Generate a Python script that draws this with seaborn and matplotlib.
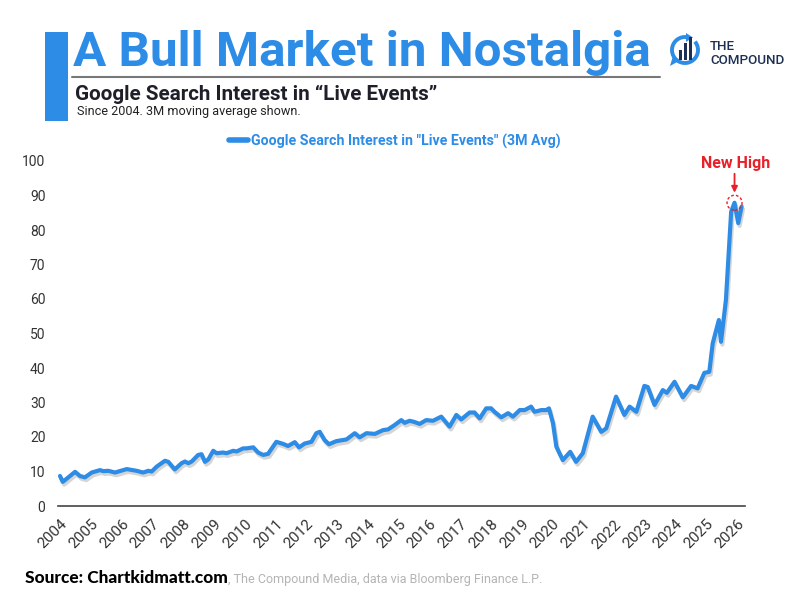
import matplotlib
matplotlib.use("Agg")
import matplotlib.pyplot as plt
import matplotlib.patheffects as pe
from matplotlib.patches import Rectangle, Ellipse, Arc, Polygon
from matplotlib.lines import Line2D
import seaborn as sns
import pandas as pd
import numpy as np

# ---------------- data ----------------
years = [2004.00, 2004.09, 2004.27, 2004.49, 2004.65, 2004.81, 2005.03, 2005.30, 2005.41, 2005.57,
         2005.79, 2005.90, 2006.17, 2006.49, 2006.70, 2006.87, 2006.98, 2007.14, 2007.41, 2007.52,
         2007.73, 2007.95, 2008.06, 2008.17, 2008.28, 2008.49, 2008.60, 2008.71, 2008.82, 2008.98,
         2009.09, 2009.30, 2009.41, 2009.63, 2009.74, 2009.95, 2010.06, 2010.28, 2010.44, 2010.60,
         2010.76, 2011.03, 2011.25, 2011.41, 2011.63, 2011.77, 2011.95, 2012.17, 2012.33, 2012.44,
         2012.60, 2012.74, 2012.98, 2013.31, 2013.58, 2013.74, 2013.96, 2014.23, 2014.50, 2014.66,
         2014.88, 2015.09, 2015.20, 2015.36, 2015.50, 2015.69, 2015.90, 2016.12, 2016.39, 2016.66,
         2016.88, 2017.04, 2017.31, 2017.47, 2017.64, 2017.85, 2018.01, 2018.12, 2018.34, 2018.56,
         2018.72, 2018.94, 2019.10, 2019.31, 2019.42, 2019.64, 2019.80, 2019.89, 2020.02, 2020.13,
         2020.34, 2020.58, 2020.77, 2020.99, 2021.31, 2021.59, 2021.75, 2022.07, 2022.34, 2022.51,
         2022.73, 2022.99, 2023.10, 2023.32, 2023.59, 2023.72, 2023.97, 2024.24, 2024.51, 2024.72,
         2024.94, 2025.10, 2025.21, 2025.41, 2025.48, 2025.64, 2025.81, 2025.92, 2026.04, 2026.15]
values = [8.7, 7.0, 8.3, 9.9, 8.7, 8.3, 9.7, 10.4, 10.1, 10.2,
          9.7, 10.0, 10.7, 10.2, 9.7, 10.2, 10.0, 11.4, 13.1, 12.8,
          10.6, 12.4, 12.9, 12.4, 12.9, 14.8, 15.0, 12.8, 13.5, 16.0,
          15.3, 15.5, 15.3, 16.0, 15.8, 16.7, 16.7, 17.0, 15.5, 14.8,
          15.1, 18.6, 18.0, 17.4, 18.5, 17.0, 18.1, 18.6, 21.1, 21.5,
          19.1, 17.9, 18.8, 19.3, 21.1, 19.9, 21.1, 20.9, 22.0, 22.2,
          23.5, 24.9, 24.1, 24.7, 24.4, 23.8, 24.9, 24.7, 25.9, 23.0,
          26.4, 25.1, 27.1, 27.1, 25.4, 28.3, 28.3, 27.3, 25.7, 26.9,
          25.9, 27.8, 27.8, 28.8, 27.3, 27.8, 27.8, 28.3, 24.0, 17.2,
          13.3, 15.7, 12.8, 15.3, 25.9, 21.5, 22.5, 31.7, 26.4, 28.8,
          27.3, 34.8, 34.5, 29.3, 33.6, 32.8, 36.0, 31.5, 34.8, 34.1,
          38.6, 38.9, 47.1, 53.9, 47.6, 59.7, 85.3, 87.9, 82.0, 86.8]
tick_years = list(range(2004, 2027))
y_ticks = list(range(0, 101, 10))
series_label = 'Google Search Interest in "Live Events" (3M Avg)'
title = "A Bull Market in Nostalgia"
subtitle = "Google Search Interest in \u201cLive Events\u201d"
subsubtitle = "Since 2004. 3M moving average shown."
source_bold = "Source: Chartkidmatt.com"
source_rest = ", The Compound Media, data via Bloomberg Finance L.P."
annotation_text = "New High"

# ---------------- style ----------------
BLUE = "#2D8CE6"
NAVY = "#1d2f55"
sns.set_theme(style="white")
plt.rcParams["font.family"] = ["Roboto", "DejaVu Sans"]

W, H = 800, 600
fig = plt.figure(figsize=(8, 6), dpi=100)
fig.patch.set_facecolor("white")


def fx(x):
    return x / W


def fy(y):
    return 1 - y / H


renderer = fig.canvas.get_renderer()


def fit(t, target_w):
    w = t.get_window_extent(renderer).width
    t.set_fontsize(t.get_fontsize() * target_w / w)


# ---------------- main axes ----------------
ax = fig.add_axes([fx(58), fy(506), (745 - 58) / W, (506 - 161) / H])
df = pd.DataFrame({"Year": years, "Value": values})
sns.lineplot(data=df, x="Year", y="Value", ax=ax, color=BLUE, linewidth=3.0, legend=False)
line = ax.lines[0]
line.set_solid_joinstyle("round")
line.set_solid_capstyle("round")
line.set_path_effects([pe.SimpleLineShadow(offset=(1.0, -2.0), shadow_color="#777777", alpha=0.3),
                       pe.Normal()])

ax.set_xlim(2003.935, 2026.26)
ax.set_ylim(0, 100)
ax.set_xticks(tick_years)
ax.set_xticklabels([str(t) for t in tick_years], rotation=45, ha="right",
                   rotation_mode="anchor", fontsize=11, color="#333333")
ax.set_yticks(y_ticks)
ax.set_yticklabels([str(t) for t in y_ticks], fontsize=10, color="#333333")
ax.tick_params(axis="both", length=0)
ax.tick_params(axis="y", pad=9)
ax.tick_params(axis="x", pad=8)
ax.set_xlabel("")
ax.set_ylabel("")
ax.grid(False)
for s in ["left", "top", "right"]:
    ax.spines[s].set_visible(False)
ax.spines["bottom"].set_color("#444444")
ax.spines["bottom"].set_linewidth(1.2)
ax.set_facecolor("white")

# peak annotation
i = int(np.argmax(values))
px, py = years[i], values[i]
xpp = (745 - 58) / (2026.26 - 2003.935)  # pixels per year
ypp = (506 - 161) / 100.0                 # pixels per unit
ax.add_patch(Ellipse((px, py), width=15 / xpp, height=15 / ypp, fill=False, ec="#e8202a",
                     ls=(0, (2, 1.5)), lw=1.0, clip_on=False, zorder=5))
ax.annotate("", xy=(px, py + 10 / ypp), xytext=(px, py + 29 / ypp),
            arrowprops=dict(arrowstyle="-|>", color="#e8202a", lw=1.3, mutation_scale=9,
                            shrinkA=0, shrinkB=0), annotation_clip=False)
ax.annotate(annotation_text, xy=(px, py), xytext=(1 * 0.72, 39 * 0.72),
            textcoords="offset points", ha="center", va="center", color="#e8202a",
            weight="bold", fontsize=11.5, annotation_clip=False)

# legend
fig.legend(handles=[Line2D([0], [0], color=BLUE, lw=4)], labels=[series_label],
           loc="center", bbox_to_anchor=(fx(394.5), fy(141)), frameon=False,
           handlelength=1.35, handletextpad=0.2, prop={"weight": "bold", "size": 10.2},
           labelcolor=BLUE)

# ---------------- header ----------------
fig.add_artist(Rectangle((fx(45), fy(121)), 23 / W, 89 / H, transform=fig.transFigure,
                         color=BLUE, lw=0))
t_title = fig.text(fx(73), fy(66), title, fontsize=32, weight="bold", color=BLUE,
                   va="baseline", ha="left")
fit(t_title, 579)
fig.add_artist(Line2D([fx(72), fx(660)], [fy(77), fy(77)], transform=fig.transFigure,
                      color="#777777", lw=1.5))
t_sub = fig.text(fx(75), fy(100), subtitle, fontsize=13, weight="bold", color="#1f1f2a",
                 va="baseline", ha="left")
fit(t_sub, 362)
t_ss = fig.text(fx(77), fy(114.5), subsubtitle, fontsize=8.6, color="#222222",
                va="baseline", ha="left")
fit(t_ss, 221)

# logo
lax = fig.add_axes([fx(668), fy(68), 36 / W, 36 / H])
lax.set_xlim(668, 704)
lax.set_ylim(-68, -32)
lax.axis("off")
lax.add_patch(Arc((685, -50), 26, 26, theta1=85, theta2=400, color=BLUE, lw=2.8))
lax.add_patch(Polygon([[686, -33], [693, -37.5], [686, -42]], closed=True, color=BLUE, lw=0))
lax.add_patch(Polygon([[673, -56], [670, -66], [679, -61]], closed=True, color=BLUE, lw=0))
for bx, top in [(678.5, 50), (683.5, 43), (688.5, 37)]:
    lax.add_patch(Rectangle((bx, -60), 3.3, 60 - top, color=NAVY, lw=0))
t_the = fig.text(fx(710), fy(47), "THE", fontsize=9.5, color=NAVY, va="center", ha="left",
                 weight="medium")
t_cmp = fig.text(fx(710), fy(60), "COMPOUND", fontsize=9.5, color=NAVY, va="center", ha="left",
                 weight="medium")
fit(t_cmp, 75)
t_the.set_fontsize(t_cmp.get_fontsize())

# source line
t_src = fig.text(fx(25), fy(583), source_bold, fontsize=11, color="black",
                 family=["Lato", "DejaVu Sans"], weight="black", va="baseline", ha="left")
fit(t_src, 203)
bb = t_src.get_window_extent(renderer)
t_rest = fig.text(bb.x1 / W, fy(583), source_rest, fontsize=10, color="#b4b4b4",
                  va="baseline", ha="left")
fit(t_rest, 542 - bb.x1)

fig.savefig("out.png", dpi=100, facecolor="white")
